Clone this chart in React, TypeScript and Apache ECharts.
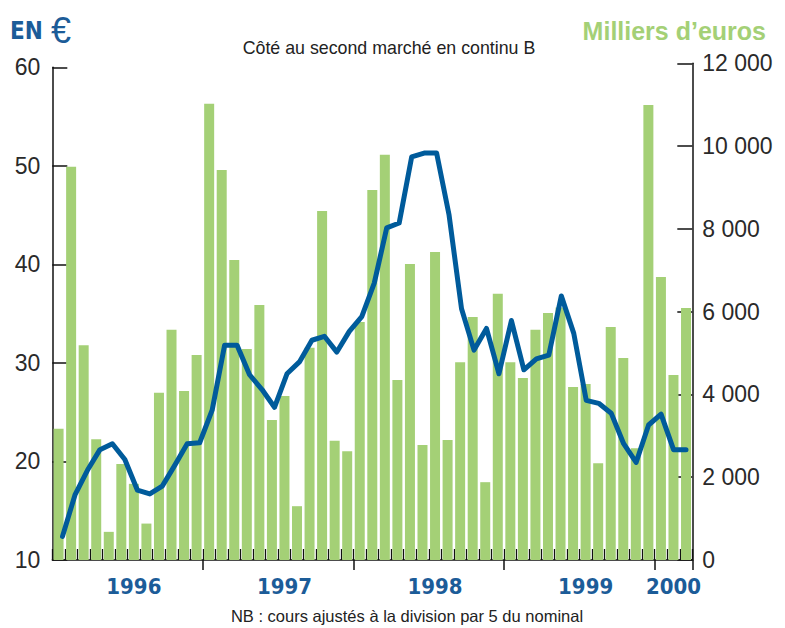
import React, { useEffect, useRef } from "react";
import * as echarts from "echarts";

const years = ["1996", "1997", "1998", "1999", "2000"];
const monthsPerYear = [12, 12, 12, 12, 3];
const months: string[] = [];
years.forEach((y, k) => {
  for (let m = 1; m <= monthsPerYear[k]; m++) months.push(y + "-" + (m < 10 ? "0" + m : m));
});

// Monthly volume, thousands of euros (right axis)
const volumes = [
  3170, 9500, 5190, 2920, 680, 2320, 1840, 880, 4040, 5560, 4080, 4950,
  11020, 9420, 7250, 5100, 6160, 3380, 3960, 1300, 5130, 8430, 2880, 2630,
  5750, 8940, 9790, 4350, 7150, 2780, 7440, 2900, 4780, 5870, 1880, 6430,
  4780, 4400, 5560, 5970, 6100, 4180, 4250, 2340, 5630, 4880, 2700, 10990,
  6840, 4470, 6090,
];

// Share price in euros (left axis)
const prices = [
  12.4, 16.6, 19.1, 21.2, 21.8, 20.2, 17.1, 16.7, 17.5, 19.6, 21.8, 21.9,
  25.2, 31.8, 31.8, 28.8, 27.3, 25.5, 28.9, 30.1, 32.3, 32.7, 31.1, 33.2,
  34.7, 38.1, 43.7, 44.2, 50.9, 51.3, 51.3, 45.0, 35.5, 31.3, 33.5, 28.9,
  34.3, 29.3, 30.4, 30.8, 36.8, 33.0, 26.2, 25.9, 24.9, 21.8, 19.9, 23.7,
  24.8, 21.2, 21.2,
];

const yearLabelIndex = [6, 18, 30, 42, 49];

const BLUE = "#005b9b";
const GREEN = "#a4d076";
const LABEL_BLUE = "#1c5c98";
const AXIS = "#111";

function fmtThousands(v: number) {
  return String(v).replace(/\B(?=(\d{3})+(?!\d))/g, " ");
}

export default function App() {
  const ref = useRef<HTMLDivElement>(null);
  useEffect(() => {
    document.body.style.margin = "0";
    if (!ref.current) return;
    const chart = echarts.init(ref.current, undefined, { renderer: "svg" });
    const option = {
      animation: false,
      backgroundColor: "#fff",
      grid: [
        { left: 62.5, right: 99, top: 67.3, bottom: 68 },
        { left: 52.3, right: 92.7, top: 63.3, bottom: 68 },
      ],
      xAxis: [
        { gridIndex: 0, type: "category", data: months, boundaryGap: false, show: false },
        {
          gridIndex: 1,
          type: "category",
          data: months,
          boundaryGap: true,
          axisLine: { show: true, lineStyle: { color: AXIS, width: 1.5 } },
          axisTick: { show: true, inside: true, length: 11, interval: 0, lineStyle: { color: AXIS, width: 1.3 } },
          axisLabel: { show: false },
          splitLine: { show: false },
        },
        {
          gridIndex: 1,
          type: "category",
          data: months,
          boundaryGap: true,
          position: "bottom",
          axisLine: { show: false },
          axisTick: {
            show: true,
            inside: false,
            length: 10,
            interval: (i: number) => i > 0 && i % 12 === 0,
            lineStyle: { color: AXIS, width: 1.5 },
          },
          axisLabel: {
            show: true,
            interval: (i: number) => yearLabelIndex.indexOf(i) >= 0,
            formatter: (v: string) => v.slice(0, 4),
            color: LABEL_BLUE,
            fontFamily: "DejaVu Sans Condensed",
            fontWeight: "bold",
            fontSize: 22,
            margin: 15,
          },
          splitLine: { show: false },
        },
      ],
      yAxis: [
        {
          gridIndex: 0,
          type: "value",
          position: "left",
          offset: 10.2,
          min: 10,
          max: 60,
          interval: 10,
          axisLine: { show: true, lineStyle: { color: AXIS, width: 1.5 } },
          axisTick: { show: true, inside: true, length: 15, lineStyle: { color: AXIS, width: 1.5 } },
          splitLine: { show: false },
          axisLabel: {
            color: "#2a2a2a",
            fontSize: 23,
            fontFamily: "Liberation Sans",
            margin: 12,
            padding: [6, 0, 0, 0],
          },
        },
        {
          gridIndex: 1,
          type: "value",
          position: "right",
          min: 0,
          max: 12000,
          interval: 2000,
          axisLine: { show: true, lineStyle: { color: AXIS, width: 1.5 } },
          axisTick: { show: true, inside: true, length: 15, lineStyle: { color: AXIS, width: 1.5 } },
          splitLine: { show: false },
          axisLabel: {
            color: "#2a2a2a",
            fontSize: 23,
            fontFamily: "Liberation Sans",
            margin: 10,
            padding: [6, 0, 0, 0],
            formatter: (v: number) => fmtThousands(v),
          },
        },
      ],
      series: [
        {
          type: "bar",
          xAxisIndex: 1,
          yAxisIndex: 1,
          data: volumes,
          barWidth: 10,
          itemStyle: { color: GREEN },
          z: 2,
        },
        {
          type: "line",
          xAxisIndex: 0,
          yAxisIndex: 0,
          data: prices,
          symbol: "none",
          lineStyle: { color: BLUE, width: 5, cap: "round", join: "round" },
          z: 5,
        },
      ],
      graphic: [
        {
          type: "text",
          x: 10,
          y: 31,
          style: {
            text: "EN",
            fontFamily: "DejaVu Sans Condensed",
            fontWeight: "bold",
            fontSize: 24,
            fill: LABEL_BLUE,
            align: "left",
            verticalAlign: "middle",
          },
        },
        {
          type: "text",
          x: 51,
          y: 30,
          style: {
            text: "€",
            fontFamily: "Liberation Sans",
            fontSize: 36,
            fill: LABEL_BLUE,
            align: "left",
            verticalAlign: "middle",
          },
        },
        {
          type: "text",
          x: 766,
          y: 31,
          style: {
            text: "Milliers d’euros",
            fontFamily: "Liberation Sans",
            fontWeight: "bold",
            fontSize: 25,
            fill: GREEN,
            align: "right",
            verticalAlign: "middle",
          },
        },
        {
          type: "text",
          x: 389,
          y: 48,
          style: {
            text: "Côté au second marché en continu B",
            fontFamily: "Liberation Sans",
            fontSize: 17.8,
            fill: "#222",
            align: "center",
            verticalAlign: "middle",
          },
        },
        {
          type: "text",
          x: 407,
          y: 616,
          style: {
            text: "NB : cours ajustés à la division par 5 du nominal",
            fontFamily: "Liberation Sans",
            fontSize: 16.5,
            fill: "#222",
            align: "center",
            verticalAlign: "middle",
          },
        },
      ],
    };
    chart.setOption(option as any);
    return () => chart.dispose();
  }, []);
  return <div ref={ref} style={{ width: 785, height: 628 }} />;
}
